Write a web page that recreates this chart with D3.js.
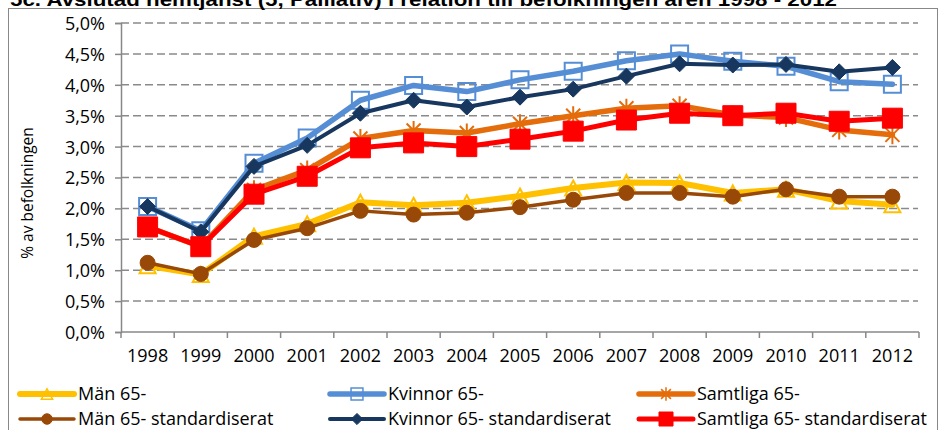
<!DOCTYPE html>
<html>
<head>
<meta charset="utf-8">
<script src="https://cdn.jsdelivr.net/npm/d3@7"></script>
<style>
  body { margin: 0; background: #fff; }
  svg text { font-family: "Open Sans", sans-serif; fill: #000; }
</style>
</head>
<body>
<svg id="chart" width="940" height="430"></svg>
<script>
// data (percent of population)
var years = [1998, 1999, 2000, 2001, 2002, 2003, 2004, 2005, 2006, 2007, 2008, 2009, 2010, 2011, 2012];
var man65 =          [1.07, 0.93, 1.55, 1.75, 2.10, 2.05, 2.09, 2.20, 2.33, 2.42, 2.41, 2.25, 2.31, 2.12, 2.06];
var kvinnor65 =      [2.03, 1.64, 2.73, 3.14, 3.75, 3.99, 3.89, 4.08, 4.22, 4.39, 4.50, 4.38, 4.30, 4.05, 4.01];
var samtliga65 =     [1.70, 1.38, 2.30, 2.62, 3.13, 3.26, 3.22, 3.37, 3.50, 3.62, 3.66, 3.51, 3.47, 3.27, 3.19];
var man65Std =       [1.12, 0.94, 1.49, 1.68, 1.96, 1.90, 1.93, 2.02, 2.14, 2.25, 2.25, 2.19, 2.31, 2.19, 2.19];
var kvinnor65Std =   [2.03, 1.62, 2.68, 3.02, 3.54, 3.75, 3.64, 3.80, 3.93, 4.14, 4.34, 4.32, 4.33, 4.21, 4.28];
var samtliga65Std =  [1.70, 1.38, 2.23, 2.52, 2.98, 3.06, 3.00, 3.12, 3.25, 3.43, 3.54, 3.50, 3.54, 3.41, 3.46];
var seriesNames = ["Män 65-", "Kvinnor 65-", "Samtliga 65-",
                   "Män 65- standardiserat", "Kvinnor 65- standardiserat", "Samtliga 65- standardiserat"];
var yTicks = [0, 0.5, 1, 1.5, 2, 2.5, 3, 3.5, 4, 4.5, 5];
var titleText = "5c. Avslutad hemtjänst (5, Palliativ) i relation till befolkningen åren 1998 - 2012";
var yTitle = "% av befolkningen";

// marker shapes
function markerPath(type, k) {
  var p = d3.path();
  if (type == "square" || type == "bigsquare") {
    var s = (type == "square" ? 17 : 20) * k;
    p.rect(-s / 2, -s / 2, s, s);
  } else if (type == "diamond") {
    var d = 8 * k;
    p.moveTo(0, -d); p.lineTo(d, 0); p.lineTo(0, d); p.lineTo(-d, 0); p.closePath();
  } else if (type == "triangle") {
    var w = 8 * k, h = 7.5 * k;
    p.moveTo(0, -h); p.lineTo(w, h); p.lineTo(-w, h); p.closePath();
  } else if (type == "circle") {
    p.arc(0, 0, 7.5 * k, 0, 2 * Math.PI);
  } else if (type == "star") {
    var r = 7 * k, v = 9.5 * k;
    p.moveTo(-r, -r); p.lineTo(r, r);
    p.moveTo(-r, r); p.lineTo(r, -r);
    p.moveTo(0, -v); p.lineTo(0, v);
  }
  return p.toString();
}

var series = [
  { name: seriesNames[0], values: man65,         color: "#FFC000", width: 6,   marker: "triangle",  filled: false },
  { name: seriesNames[1], values: kvinnor65,     color: "#558ED5", width: 5.5, marker: "square",    filled: false },
  { name: seriesNames[2], values: samtliga65,    color: "#E46C0A", width: 5.5, marker: "star",      filled: false },
  { name: seriesNames[3], values: man65Std,      color: "#984807", width: 3.5, marker: "circle",    filled: true },
  { name: seriesNames[4], values: kvinnor65Std,  color: "#17375E", width: 4,   marker: "diamond",   filled: true },
  { name: seriesNames[5], values: samtliga65Std, color: "#FF0000", width: 5,   marker: "bigsquare", filled: true }
];

var svg = d3.select("#chart");

// chart border
svg.append("rect")
  .attr("x", 8.5).attr("y", 8.5)
  .attr("width", 929).attr("height", 440)
  .attr("fill", "none").attr("stroke", "#888").attr("stroke-width", 1);

// title, cut at the top edge like the picture
svg.append("text")
  .attr("x", 10).attr("y", 5.5)
  .attr("textLength", 827).attr("lengthAdjust", "spacingAndGlyphs")
  .style("font-family", "'Liberation Sans', Arial, sans-serif")
  .style("font-weight", "bold").style("font-size", "19px")
  .text(titleText);

var x = d3.scaleBand().domain(years).range([121, 919]);
var y = d3.scaleLinear().domain([0, 5]).range([332, 23]);

// gridlines
svg.append("g").selectAll("line")
  .data(yTicks.filter(function(t) { return t > 0; }))
  .enter().append("line")
  .attr("x1", 121).attr("x2", 918)
  .attr("y1", function(d) { return y(d); })
  .attr("y2", function(d) { return y(d); })
  .attr("stroke", "#8a8a8a").attr("stroke-width", 1.5)
  .attr("stroke-dasharray", "8,4");

// y axis
var yAxis = d3.axisLeft(y).tickValues(yTicks).tickSize(6).tickPadding(10)
  .tickFormat(function(d) { return d3.format(".1f")(d).replace(".", ",") + "%"; });
var gy = svg.append("g").attr("transform", "translate(121,0)").call(yAxis);
gy.select(".domain").attr("stroke", "#888").attr("stroke-width", 1.5);
gy.selectAll(".tick line").attr("stroke", "#888").attr("stroke-width", 1.5);
gy.selectAll(".tick text").style("font-size", "18px").attr("dy", "0.36em");

// x axis, ticks between categories
var gx = svg.append("g").attr("transform", "translate(0,332)");
gx.append("line").attr("x1", 121).attr("x2", 919)
  .attr("stroke", "#888").attr("stroke-width", 1.5);
var bounds = years.map(function(d) { return x(d); }).concat([919]);
gx.selectAll("line.tk").data(bounds).enter().append("line").attr("class", "tk")
  .attr("x1", function(d) { return d; }).attr("x2", function(d) { return d; })
  .attr("y1", 0).attr("y2", 6)
  .attr("stroke", "#888").attr("stroke-width", 1.5);
gx.selectAll("text").data(years).enter().append("text")
  .attr("x", function(d) { return x(d) + x.bandwidth() / 2; })
  .attr("y", 30)
  .attr("text-anchor", "middle")
  .style("font-size", "18px")
  .text(function(d) { return d; });

// y axis title
svg.append("text")
  .attr("transform", "translate(33,193) rotate(-90)")
  .attr("text-anchor", "middle")
  .style("font-size", "15.5px")
  .text(yTitle);

// lines and markers
var line = d3.line()
  .x(function(d, i) { return x(years[i]) + x.bandwidth() / 2; })
  .y(function(d) { return y(d); });

series.forEach(function(s) {
  var g = svg.append("g");
  g.append("path").datum(s.values)
    .attr("d", line)
    .attr("fill", "none").attr("stroke", s.color).attr("stroke-width", s.width)
    .attr("stroke-linejoin", "round").attr("stroke-linecap", "round");
  g.selectAll("path.mk").data(s.values).enter().append("path").attr("class", "mk")
    .attr("transform", function(d, i) {
      return "translate(" + (x(years[i]) + x.bandwidth() / 2) + "," + y(d) + ")";
    })
    .attr("d", markerPath(s.marker, 1))
    .attr("fill", s.filled ? s.color : "none")
    .attr("stroke", s.color)
    .attr("stroke-width", s.filled ? 1 : 2);
});

// legend
var legCols = [20, 330, 639];
var legRows = [394, 419];
series.forEach(function(s, i) {
  var lx = legCols[i % 3], ly = legRows[Math.floor(i / 3)];
  var g = svg.append("g").attr("transform", "translate(" + lx + "," + ly + ")");
  g.append("line").attr("x1", 0).attr("x2", 54)
    .attr("stroke", s.color).attr("stroke-width", s.width).attr("stroke-linecap", "round");
  g.append("path").attr("transform", "translate(27,0)")
    .attr("d", markerPath(s.marker, 0.7))
    .attr("fill", s.filled ? s.color : "none")
    .attr("stroke", s.color).attr("stroke-width", s.filled ? 1 : 1.5);
  g.append("text").attr("x", 58).attr("y", 6)
    .style("font-size", "18px")
    .text(s.name);
});
</script>
</body>
</html>
